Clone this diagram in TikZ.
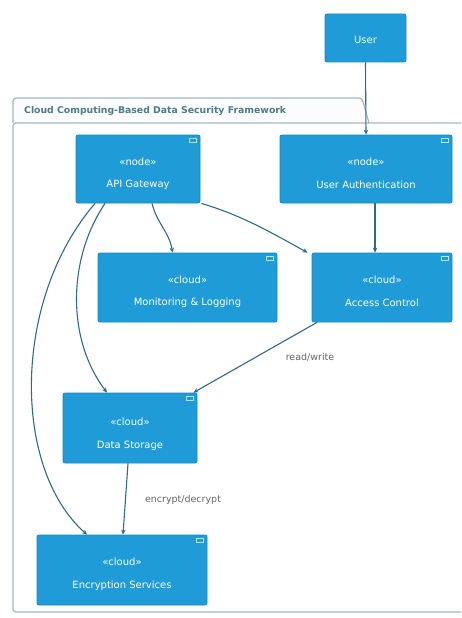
\documentclass[tikz,border=0pt]{standalone}
\usepackage{fontspec}
\setmainfont{DejaVu Sans}
\usetikzlibrary{arrows.meta}
\definecolor{boxfill}{HTML}{1F9BD7}
\definecolor{boxline}{HTML}{1788C2}
\definecolor{edgec}{HTML}{2F6B86}
\definecolor{framec}{HTML}{A3B7C2}
\definecolor{titlec}{HTML}{4D7A88}
\definecolor{labelc}{HTML}{666666}
\tikzset{
  comp/.style={draw=boxline, fill=boxfill, line width=0.8pt, rounded corners=2pt, inner sep=0pt},
  txt/.style={text=white, font=\fontsize{10}{12}\selectfont, inner sep=0pt},
  conn/.style={draw=edgec, line width=1.1pt, -{Stealth[length=5pt,width=4.5pt]}},
  elabel/.style={text=labelc, font=\fontsize{9.5}{11}\selectfont, inner sep=0pt},
  icon/.style={draw=white!70!boxfill, line width=0.5pt}
}
\begin{document}
\begin{tikzpicture}[x=1pt,y=-1pt]
\useasboundingbox (0,0) rectangle (461,618);
\fill[white] (0,0) rectangle (461,618);
% frame
\draw[framec, line width=1.2pt, rounded corners=3pt, fill=white!96!framec] (13,123) -- (13,98) -- (362,98) -- (369,123);
\draw[framec, line width=1.2pt, rounded corners=3pt] (461,123) -- (13,123) -- (13,612) -- (461,612);
\node[anchor=west, text=titlec, font=\bfseries\fontsize{9.3}{11}\selectfont, inner sep=0pt] (title) at (24,111) {Cloud Computing-Based Data Security Framework};
% boxes
\node[comp, minimum width=81pt, minimum height=48pt] (user) at (365.5,38) {};
\node[comp, minimum width=124pt, minimum height=68pt] (api) at (138,169) {};
\node[comp, minimum width=172pt, minimum height=68pt] (auth) at (366,169) {};
\node[comp, minimum width=179pt, minimum height=69pt] (mon) at (187.5,287.5) {};
\node[comp, minimum width=140pt, minimum height=69pt] (acc) at (382,287.5) {};
\node[comp, minimum width=134pt, minimum height=70pt] (ds) at (130,428) {};
\node[comp, minimum width=170pt, minimum height=70pt] (enc) at (122,570) {};
% icons
\foreach \n in {api,auth,mon,acc,ds,enc}{
  \draw[icon] ([xshift=-11pt,yshift=-4pt]\n.north east) rectangle ([xshift=-4pt,yshift=-8pt]\n.north east);
}
% texts
\node[txt] (usert) at (365.5,40) {User};
\node[txt] (apis) at (138,162) {«node»};
\node[txt] (apin) at (138,185) {API Gateway};
\node[txt] (auths) at (366,162) {«node»};
\node[txt] (authn) at (366,185) {User Authentication};
\node[txt] (mons) at (187.5,280) {«cloud»};
\node[txt] (monn) at (187.5,303) {Monitoring \& Logging};
\node[txt] (accs) at (382,280) {«cloud»};
\node[txt] (accn) at (382,303) {Access Control};
\node[txt] (dss) at (130,422) {«cloud»};
\node[txt] (dsn) at (130,446) {Data Storage};
\node[txt] (encs) at (122,562) {«cloud»};
\node[txt] (encn) at (122,586) {Encryption Services};
% connectors
\draw[conn] (user.south) -- (auth.north);
\draw[conn] ([xshift=9pt]auth.south) -- ([xshift=-7pt]acc.north);
\draw[conn] ([xshift=14pt]api.south) .. controls +(5,20) and +(-3,-20) .. ([xshift=-15pt]mon.north);
\draw[conn] ([xshift=1pt]api.south east) .. controls +(40,12) and +(-40,-22) .. ([xshift=-4pt]acc.north west);
\draw[conn] ([xshift=-33pt]api.south) .. controls (67,260) and (67,340) .. ([xshift=-23pt]ds.north);
\draw[conn] ([xshift=-43pt]api.south) .. controls (12,300) and (12,468) .. ([xshift=-35pt]enc.north);
\draw[conn] ([xshift=-65pt]acc.south) -- ([xshift=-4pt]ds.north east);
\draw[conn] ([xshift=-2pt]ds.south) -- ([xshift=1pt]enc.north);
\node[elabel] (rw) at (310,357) {read/write};
\node[elabel] (ed) at (183,500) {encrypt/decrypt};
\end{tikzpicture}
\end{document}
